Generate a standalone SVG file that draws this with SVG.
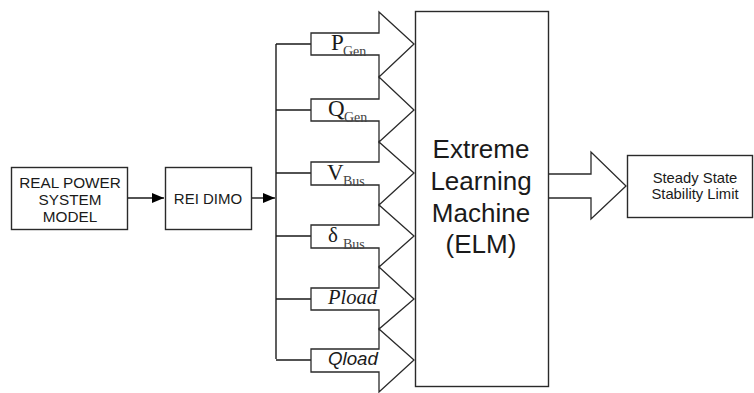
<svg xmlns="http://www.w3.org/2000/svg" width="754" height="393" viewBox="0 0 754 393">
<style>
.box{fill:#fff;stroke:#2a2a2a;stroke-width:1.4}
.blk{fill:#fff;stroke:#2a2a2a;stroke-width:1.3;stroke-linejoin:miter}
.ln{fill:none;stroke:#1a1a1a;stroke-width:1.4}
.sans{font-family:"Liberation Sans",Arial,sans-serif;fill:#1a1a1a}
.serif{font-family:"Liberation Serif","Times New Roman",serif;fill:#1a1a1a}
.sub{font-family:"Liberation Serif","Times New Roman",serif;fill:#444;font-size:14px}
</style>
<defs>
<marker id="ah" markerWidth="12" markerHeight="10" refX="12" refY="5" orient="auto" markerUnits="userSpaceOnUse">
<path d="M0,0 L12,5 L0,10 Z" fill="#000"/>
</marker>
</defs>
<g id="connectors">
<line class="ln" x1="127" y1="198" x2="164" y2="198" marker-end="url(#ah)"/>
<line class="ln" x1="251" y1="198" x2="275" y2="198" marker-end="url(#ah)"/>
<path class="ln" d="M276,44 V359"/>
<path class="ln" d="M276,44 H311 M276,110 H311 M276,173 H311 M276,236 H311 M276,299 H311 M276,360 H311"/>
<path class="blk" d="M548,174 H591 V152 L626,186 L591,219 V198 H548"/>
</g>
<g id="real-power">
<rect class="box" x="11.5" y="167.5" width="116" height="62"/>
<text class="sans" font-size="15.3" text-anchor="middle" x="70" y="188">REAL POWER</text>
<text class="sans" font-size="15.3" text-anchor="middle" x="70" y="205">SYSTEM</text>
<text class="sans" font-size="15.3" text-anchor="middle" x="70" y="222">MODEL</text>
</g>
<g id="rei-dimo">
<rect class="box" x="165.5" y="167.5" width="86" height="62"/>
<text class="sans" font-size="15" text-anchor="middle" x="208" y="204">REI DIMO</text>
</g>
<g id="in-pgen">
<path class="blk" d="M311,33 H379 V12 L414,44 L379,77 V55 H311 Z"/>
<text class="serif" font-size="23" x="331" y="50">P</text>
<text class="sub" x="343" y="56">Gen</text>
</g>
<g id="in-qgen">
<path class="blk" d="M311,99 H379 V77 L414,110 L379,142 V121 H311 Z"/>
<text class="serif" font-size="23" x="328" y="116">Q</text>
<text class="sub" x="344" y="122">Gen</text>
</g>
<g id="in-vbus">
<path class="blk" d="M311,162 H379 V142 L414,173 L379,205 V185 H311 Z"/>
<text class="serif" font-size="23" x="327" y="180">V</text>
<text class="sub" x="343" y="186">Bus</text>
</g>
<g id="in-dbus">
<path class="blk" d="M311,225 H379 V205 L414,236 L379,267 V248 H311 Z"/>
<text class="serif" font-size="21" x="328" y="242">δ</text>
<text class="sub" x="343" y="249">Bus</text>
</g>
<g id="in-pload">
<path class="blk" d="M311,288 H379 V267 L414,299 L379,329 V310 H311 Z"/>
<text class="serif" font-size="20.5" font-style="italic" x="328" y="304">Pload</text>
</g>
<g id="in-qload">
<path class="blk" d="M311,349 H379 V329 L414,360 L379,392 V372 H311 Z"/>
<text class="sans" font-size="18.7" font-style="italic" x="328" y="365">Qload</text>
</g>
<g id="elm">
<rect class="box" x="415.5" y="11.5" width="133" height="375"/>
<text class="sans" font-size="26" text-anchor="middle" x="481" y="158">Extreme</text>
<text class="sans" font-size="26" text-anchor="middle" x="481" y="190">Learning</text>
<text class="sans" font-size="26" text-anchor="middle" x="481" y="222">Machine</text>
<text class="sans" font-size="26" text-anchor="middle" x="481" y="253">(ELM)</text>
</g>
<g id="output">
<rect class="box" x="627.5" y="155.5" width="125" height="62"/>
<text class="sans" font-size="14.8" text-anchor="middle" x="695" y="183">Steady State</text>
<text class="sans" font-size="14.8" text-anchor="middle" x="695" y="199">Stability Limit</text>
</g>
</svg>
